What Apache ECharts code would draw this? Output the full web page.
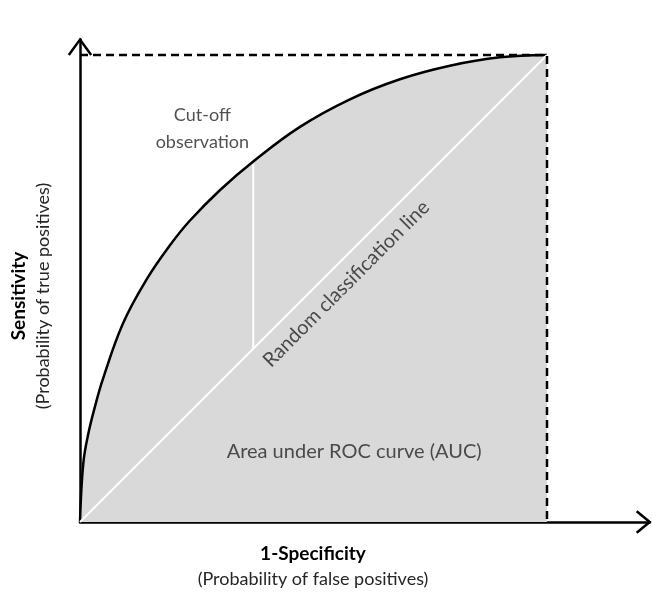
<!DOCTYPE html>
<html>
<head>
<meta charset="utf-8">
<script src="https://cdn.jsdelivr.net/npm/echarts@6/dist/echarts.min.js"></script>
<style>html,body{margin:0;padding:0;background:#fff}#c{width:652px;height:592px}</style>
</head>
<body>
<div id="c"></div>
<script>
// ROC curve
const rocFpr = [0, 0.007, 0.018, 0.032, 0.049, 0.092, 0.143, 0.193, 0.235, 0.300, 0.371, 0.471, 0.578, 0.685, 0.792, 0.899, 1];
const rocTpr = [0, 0.125, 0.190, 0.247, 0.306, 0.425, 0.520, 0.593, 0.645, 0.711, 0.772, 0.846, 0.905, 0.948, 0.977, 0.995, 1];
// Random classification (diagonal)
const diagX = [0, 1];
const diagY = [0, 1];
// Cut-off observation
const cutX = [0.371, 0.371];
const cutY = [0.371, 0.766];
// Dashed frame (perfect classifier bounds)
const frameX = [0, 1, 1];
const frameY = [1, 1, 0];
// Axis extents (arrow tips)
const xAxisMax = 1.22;
const yAxisMax = 1.033;
// Arrowheads (data units)
const xArrowX = [1.192, 1.22, 1.192];
const xArrowY = [0.023, 0, -0.023];
const yArrowX = [-0.024, 0, 0.024];
const yArrowY = [1.0, 1.033, 1.0];

const zip = (a, b) => a.map((v, i) => [v, b[i]]);
const FONT = 'Lato';
const TXT = '#262626';

const chart = echarts.init(document.getElementById('c'), null, {renderer: 'canvas'});
chart.setOption({
  animation: false,
  backgroundColor: '#fff',
  grid: {left: 80, right: 652 - (80 + xAxisMax * 467), bottom: 70, top: 522 - yAxisMax * 467},
  xAxis: {
    type: 'value', min: 0, max: xAxisMax,
    axisLine: {show: true, lineStyle: {color: '#000', width: 2.5}},
    axisTick: {show: false}, axisLabel: {show: false}, splitLine: {show: false}
  },
  yAxis: {
    type: 'value', min: 0, max: yAxisMax,
    axisLine: {show: true, lineStyle: {color: '#000', width: 2.5}},
    axisTick: {show: false}, axisLabel: {show: false}, splitLine: {show: false}
  },
  series: [
    {
      type: 'line', data: zip(rocFpr, rocTpr), smooth: 0.4,
      symbol: 'none', lineStyle: {color: '#000', width: 2.5},
      areaStyle: {color: '#d9d9d9', opacity: 1}, z: 2
    },
    {
      type: 'line', data: zip(diagX, diagY), symbol: 'none',
      lineStyle: {color: '#fff', width: 2}, z: 3
    },
    {
      type: 'line', data: zip(cutX, cutY), symbol: 'none',
      lineStyle: {color: '#fff', width: 2}, z: 3
    },
    {
      type: 'line', data: zip(frameX, frameY), symbol: 'none',
      lineStyle: {color: '#000', width: 2.5, type: [8, 5]}, z: 4
    },
    {
      type: 'scatter', symbolSize: 0, z: 6, silent: true,
      data: [
        {value: [0.262, 0.842], label: {formatter: 'Cut-off\nobservation', lineHeight: 27, fontSize: 18}},
        {value: [0.587, 0.150], label: {formatter: 'Area under ROC curve (AUC)'}},
        {value: [0.570, 0.510], label: {formatter: 'Random classification line', rotate: 45}}
      ],
      label: {show: true, position: 'inside', color: TXT, fontFamily: FONT, fontSize: 20, align: 'center', verticalAlign: 'middle'}
    }
  ]
});

// Open chevron arrowheads, positioned through the chart's own scales
const toPx = (xs, ys) => xs.map((x, i) => chart.convertToPixel({gridIndex: 0}, [x, ys[i]]));
chart.setOption({
  graphic: [
    {id: 'xt', type: 'text', x: 313, y: 554, style: {text: '1-Specificity', font: 'bold 19px ' + FONT, fill: '#000', align: 'center', verticalAlign: 'middle'}},
    {id: 'xs', type: 'text', x: 313, y: 579, style: {text: '(Probability of false positives)', font: '18px ' + FONT, fill: TXT, align: 'center', verticalAlign: 'middle'}},
    {id: 'yt', type: 'text', x: 19, y: 296, rotation: Math.PI / 2, style: {text: 'Sensitivity', font: 'bold 19px ' + FONT, fill: '#000', align: 'center', verticalAlign: 'middle'}},
    {id: 'ys', type: 'text', x: 43, y: 296, rotation: Math.PI / 2, style: {text: '(Probability of true positives)', font: '18px ' + FONT, fill: TXT, align: 'center', verticalAlign: 'middle'}},
    {id: 'xa', type: 'polyline', z: 10, shape: {points: toPx(xArrowX, xArrowY)}, style: {stroke: '#000', lineWidth: 2.5, fill: null}},
    {id: 'ya', type: 'polyline', z: 10, shape: {points: toPx(yArrowX, yArrowY)}, style: {stroke: '#000', lineWidth: 2.5, fill: null}}
  ]
});
</script>
</body>
</html>
